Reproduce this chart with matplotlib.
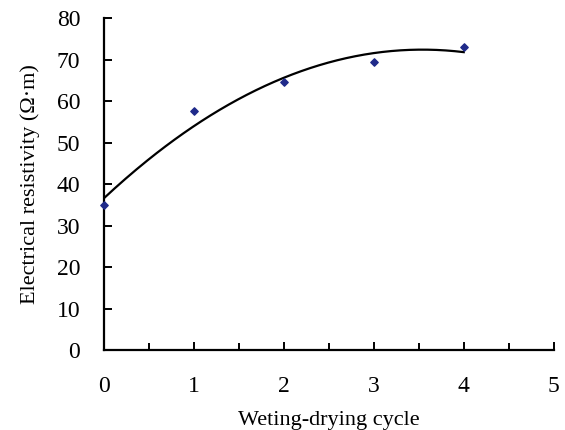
import matplotlib.pyplot as plt
import numpy as np

cycles = [0, 1, 2, 3, 4]
resistivity = [35.0, 57.5, 64.5, 69.5, 73.0]

plt.rcParams['font.family'] = ['Liberation Serif', 'DejaVu Serif']

fig = plt.figure(figsize=(5.65, 4.3), dpi=100)
ax = fig.add_axes([0.184, 0.186, 0.796, 0.772])

# second-order polynomial trend line, as in the original spreadsheet chart
coef = np.polyfit(cycles, resistivity, 2)
xs = np.linspace(min(cycles), max(cycles), 200)
ax.plot(xs, np.polyval(coef, xs), color='black', lw=1.6, zorder=2)

ax.scatter(cycles, resistivity, marker='D', s=14, color='#1f2a8a', zorder=3, clip_on=False)

ax.set_xlim(0, 5)
ax.set_ylim(0, 80)
ax.set_xticks(range(0, 6))
ax.set_xticks(np.arange(0.5, 5, 1), minor=True)
ax.set_yticks(range(0, 81, 10))

for side in ('top', 'right'):
    ax.spines[side].set_visible(False)
for side in ('left', 'bottom'):
    ax.spines[side].set_linewidth(1.6)

ax.tick_params(axis='both', which='both', direction='in', width=1.4, labelsize=17)
ax.tick_params(axis='both', which='major', length=6)
ax.tick_params(axis='x', which='minor', length=5)
ax.tick_params(axis='x', which='major', pad=19)
ax.tick_params(axis='y', which='major', pad=17)

ax.set_xlabel('Weting-drying cycle', fontsize=16, labelpad=10)
ax.set_ylabel('Electrical resistivity (Ω·m)', fontsize=16, labelpad=12)

fig.savefig('out.png', dpi=100)
